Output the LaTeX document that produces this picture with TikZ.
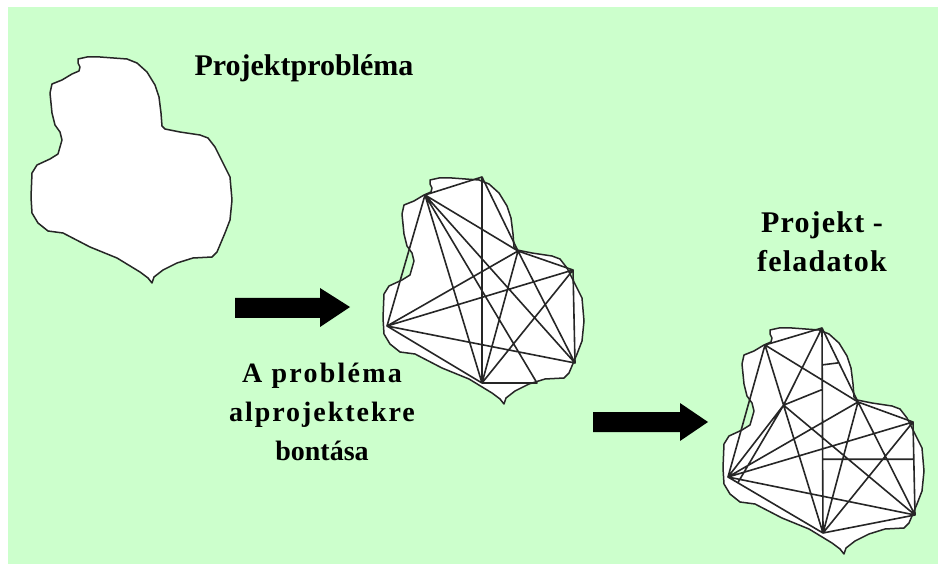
\documentclass[tikz,border=0pt]{standalone}
\usepackage{fontspec}
\setmainfont{Liberation Serif}
\usetikzlibrary{calc}
\definecolor{bggreen}{HTML}{CCFFCC}
\newcommand\blobOutline{(78,59) -- (87,57) -- (100,57) -- (127,59) -- (137,63) -- (147,72) -- (155,85) -- (159,97) -- (161,113) -- (162,126) -- (165,129) -- (180,132) -- (200,135) -- (208,138) -- (215,147) -- (223,163) -- (230,177) -- (232,200) -- (230,220) -- (225,233) -- (217,252) -- (212,257) -- (193,258) -- (177,263) -- (163,270) -- (154,277) -- (152,283) -- (148,278) -- (140,272) -- (117,258) -- (90,247) -- (63,233) -- (48,231) -- (38,223) -- (32,213) -- (31,197) -- (32,173) -- (37,165) -- (50,159) -- (58,154) -- (62,140) -- (60,132) -- (55,125) -- (52,113) -- (50,93) -- (52,84) -- (62,80) -- (72,74) -- (79,71) -- (80,67) -- (78,63) -- cycle}
\newcommand\spaced[2]{{\addfontfeature{LetterSpace=#1}#2}}
\begin{document}
\begin{tikzpicture}[x=1pt,y=-1pt,
  blob/.style={draw=black!85, fill=white, line width=1.5pt, line join=round},
  mesh/.style={draw=black!85, line width=1.6pt, line cap=round},
  bigarrow/.style={fill=black},
  captxt/.style={font=\bfseries\fontsize{30}{39}\selectfont, align=center, inner sep=0pt}]
\useasboundingbox (0,0) rectangle (938,564);
\fill[bggreen] (8,7) rectangle (938,564);

% the undivided problem
\path[blob] \blobOutline;

% the problem split into sub-projects
\begin{scope}[shift={(352,121)}]
  \path[blob] \blobOutline;
  \coordinate (pA) at (73,74);
  \coordinate (pB) at (130,56);
  \coordinate (pC) at (166,130);
  \coordinate (pD) at (221,149);
  \coordinate (pE) at (223,242);
  \coordinate (pF) at (130,262);
  \coordinate (pG) at (35,205);
  \coordinate (pK) at (185,262);
  \draw[mesh] (pA) -- (pB) (pA) -- (pG) (pB) -- (pF) (pB) -- (pC) (pA) -- (pC)
    (pA) -- (pF) (pA) -- (pK) (pA) -- (pE)
    (pC) -- (pG) (pC) -- (pF) (pC) -- (pE) (pC) -- (pD)
    (pD) -- (pG) (pD) -- (pF) (pD) -- (pE)
    (pG) -- (pE) (pG) -- (pF) (pF) -- (pK);
\end{scope}

% the resulting project tasks
\begin{scope}[shift={(692,271)}]
  \path[blob] \blobOutline;
  \coordinate (tA) at (73,74);
  \coordinate (tB) at (130,57);
  \coordinate (tC) at (166,131);
  \coordinate (tD) at (221,151);
  \coordinate (tE) at (223,244);
  \coordinate (tF) at (131,262);
  \coordinate (tG) at (36,206);
  \coordinate (tH) at ($(tA)!0.32!(tF)$);
  \coordinate (tM) at ($(tB)!0.3!(tF)$);
  \coordinate (tN) at ($(tB)!0.64!(tF)$);
  \coordinate (tS) at ($(tB)!0.18!(tF)$);
  \draw[mesh] (tA) -- (tB) (tA) -- (tG) (tB) -- (tF) (tB) -- (tC) (tA) -- (tC)
    (tA) -- (tF) (tB) -- (tH) (tH) -- (tG) (tH) -- (tM) (tH) -- (tE)
    (tG) -- (tC) (tG) -- (tD) (tG) -- (tE) (tG) -- (tF)
    (tC) -- (tF) (tC) -- (tE) (tC) -- (tD) (tD) -- (tF) (tD) -- (tE) (tF) -- (tE)
    (tH) -- ($(tG)!(tH)!(tF)$ -| tH)
    (tN) -- ($(tD)!0.4!(tE)$)
    (tS) -- ($(tB)!0.47!(tC)$);
\end{scope}

% arrows between the stages
\path[bigarrow] (235,298) -- (320,298) -- (320,288) -- (350,307) -- (320,327) -- (320,318) -- (235,318) -- cycle;
\path[bigarrow] (593,412) -- (680,412) -- (680,403) -- (708,422) -- (680,441) -- (680,432) -- (593,432) -- cycle;

% captions
\node[captxt, anchor=base] (tproblem) at (304,76) {Projektprobléma};
\node[captxt, anchor=base, font=\bfseries\fontsize{28}{39}\selectfont] (tsplit) at (322,460)
  {\spaced{8}{A probléma}\\\spaced{7}{alprojektekre}\\bontása};
\node[captxt, anchor=base] (ttasks) at (822,272) {\spaced{4}{Projekt -}\\\spaced{4}{feladatok}};
\end{tikzpicture}
\end{document}
